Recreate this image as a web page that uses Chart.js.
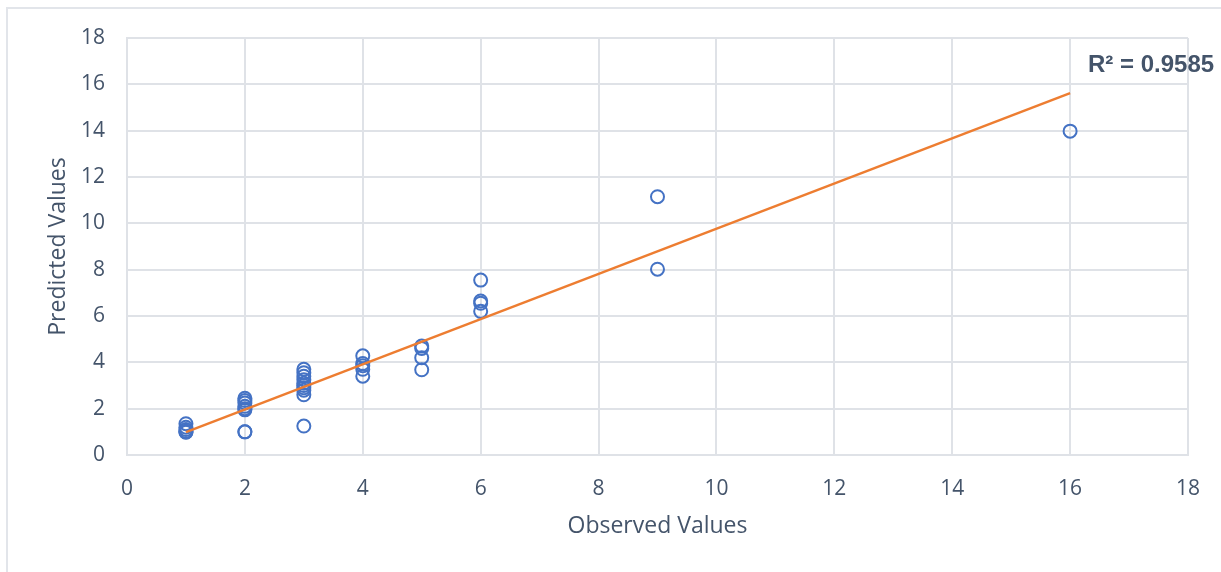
<!DOCTYPE html>
<html>
<head>
<meta charset="utf-8">
<script src="https://cdn.jsdelivr.net/npm/chart.js@4/dist/chart.umd.min.js"></script>
<style>
  html, body { margin: 0; padding: 0; background: #ffffff; }
  #wrap { position: relative; width: 1221px; height: 572px; }
  canvas { display: block; }
</style>
</head>
<body>
<div id="wrap"><canvas id="c" width="1221" height="572"></canvas></div>
<script>
// Observed vs. predicted pairs
const observed = [
  1, 1, 1, 1, 1, 1,
  2, 2, 2, 2, 2, 2, 2, 2,
  3, 3, 3, 3, 3, 3, 3, 3, 3, 3,
  4, 4, 4, 4, 4,
  5, 5, 5, 5,
  6, 6, 6, 6,
  9, 9,
  16
];
const predicted = [
  1.35, 1.2, 1.1, 1.02, 1.0, 0.98,
  2.45, 2.35, 2.25, 2.1, 2.0, 1.95, 1.0, 1.0,
  3.7, 3.55, 3.4, 3.25, 3.1, 3.0, 2.9, 2.8, 2.6, 1.25,
  4.28, 3.95, 3.85, 3.7, 3.4,
  4.7, 4.6, 4.2, 3.68,
  7.55, 6.65, 6.55, 6.2,
  11.15, 8.02,
  13.98
];

// Linear trendline end points
const trendX = [1, 16];
const trendY = [0.99, 15.62];
const rSquaredLabel = 'R² = 0.9585';

const xTicks = [0, 2, 4, 6, 8, 10, 12, 14, 16, 18];
const yTicks = [0, 2, 4, 6, 8, 10, 12, 14, 16, 18];

const textColor = '#44546a';
const gridColor = '#dfe2e7';

const points = observed.map((x, i) => ({ x: x, y: predicted[i] }));
const trend = trendX.map((x, i) => ({ x: x, y: trendY[i] }));

const extras = {
  id: 'extras',
  beforeDraw(chart) {
    const ctx = chart.ctx;
    ctx.save();
    ctx.strokeStyle = '#e2e5ea';
    ctx.lineWidth = 2;
    ctx.beginPath();
    ctx.moveTo(7, 572);
    ctx.lineTo(7, 8);
    ctx.lineTo(1221, 8);
    ctx.stroke();
    ctx.restore();
  },
  afterDatasetsDraw(chart) {
    const ctx = chart.ctx;
    const a = chart.chartArea;
    ctx.save();
    ctx.fillStyle = textColor;
    ctx.font = 'bold 24px "Liberation Sans", Arial, sans-serif';
    ctx.textAlign = 'left';
    ctx.textBaseline = 'alphabetic';
    ctx.fillText(rSquaredLabel, a.right - 100, a.top + 34);
    ctx.restore();
  }
};

new Chart(document.getElementById('c'), {
  type: 'scatter',
  data: {
    datasets: [
      {
        label: 'Predicted',
        data: points,
        showLine: false,
        pointStyle: 'circle',
        pointRadius: 6.5,
        pointHoverRadius: 6.5,
        borderWidth: 2,
        borderColor: '#4472c4',
        backgroundColor: 'rgba(0,0,0,0)',
        order: 2
      },
      {
        label: 'Linear',
        data: trend,
        showLine: true,
        pointRadius: 0,
        borderColor: '#ed7d31',
        borderWidth: 2.5,
        backgroundColor: '#ed7d31',
        order: 1
      }
    ]
  },
  plugins: [extras],
  options: {
    responsive: false,
    animation: false,
    events: [],
    layout: { padding: { left: 0, top: 38, right: 33, bottom: 0 } },
    plugins: {
      legend: { display: false },
      tooltip: { enabled: false }
    },
    scales: {
      x: {
        type: 'linear',
        min: 0,
        max: 18,
        afterBuildTicks(scale) { scale.ticks = xTicks.map(v => ({ value: v })); },
        afterFit(scale) { scale.height = 117; },
        grid: { color: gridColor, lineWidth: 2, drawTicks: false },
        border: { color: gridColor, width: 2 },
        ticks: {
          color: textColor,
          font: { family: '"Open Sans", sans-serif', size: 21 },
          padding: 21,
          maxRotation: 0
        },
        title: {
          display: true,
          text: 'Observed Values',
          color: textColor,
          font: { family: '"Open Sans", sans-serif', size: 23 },
          padding: { top: 0, bottom: 32 }
        }
      },
      y: {
        type: 'linear',
        min: 0,
        max: 18,
        afterBuildTicks(scale) { scale.ticks = yTicks.map(v => ({ value: v })); },
        afterFit(scale) { scale.width = 127; },
        grid: { color: gridColor, lineWidth: 2, drawTicks: false },
        border: { color: gridColor, width: 2 },
        ticks: {
          color: textColor,
          font: { family: '"Open Sans", sans-serif', size: 21 },
          padding: 22
        },
        title: {
          display: true,
          text: 'Predicted Values',
          color: textColor,
          font: { family: '"Open Sans", sans-serif', size: 23 },
          padding: { top: 45, bottom: 0 }
        }
      }
    }
  }
});
</script>
</body>
</html>
